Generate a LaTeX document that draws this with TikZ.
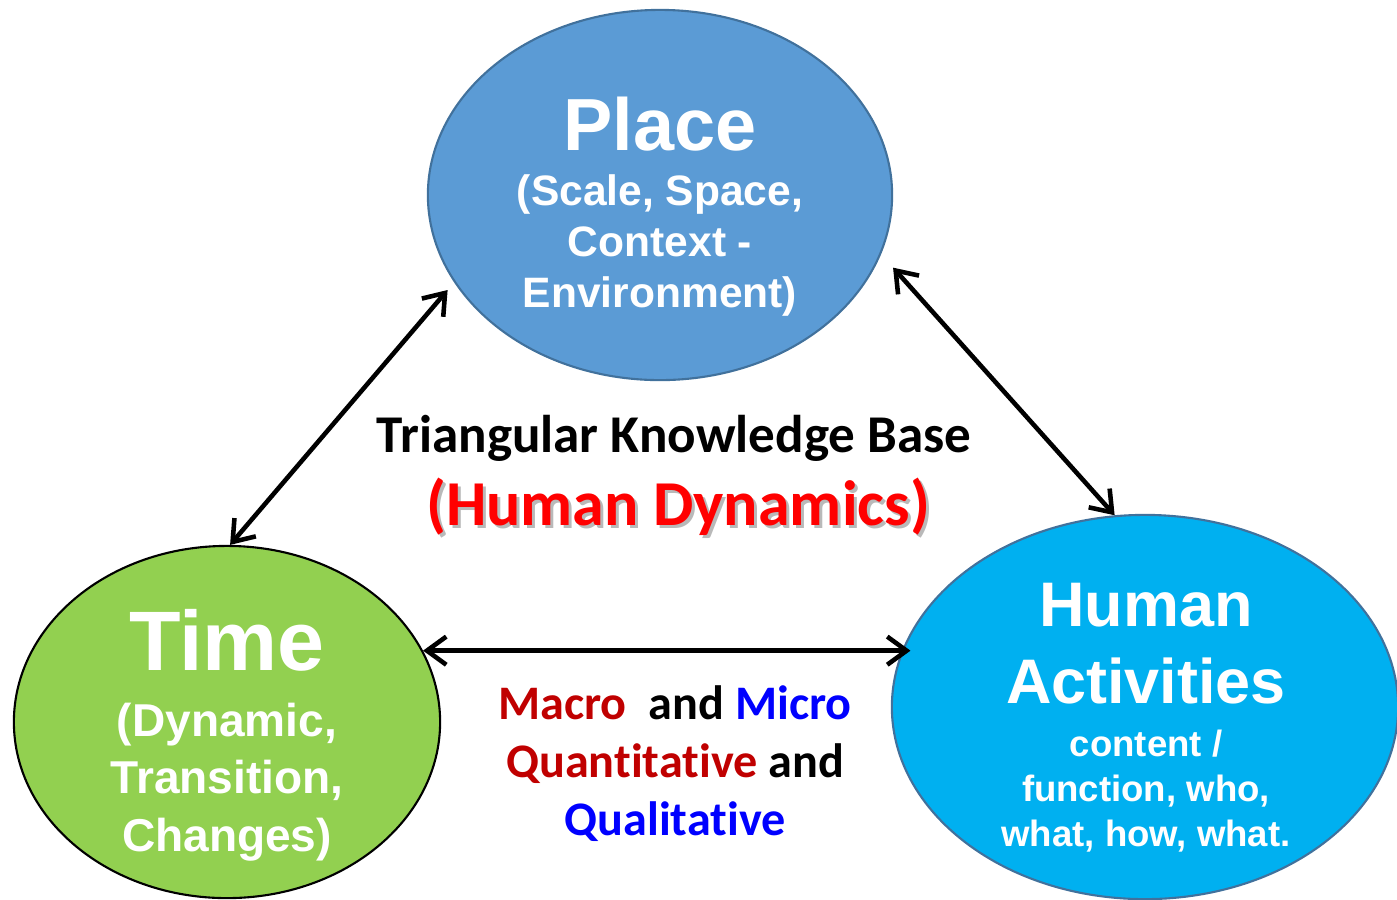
\documentclass[tikz,border=0pt]{standalone}
\usepackage{fontspec}
\setmainfont{Liberation Sans}
\newfontfamily\calibri[Ligatures=NoCommon]{Carlito}
\usetikzlibrary{shapes.geometric}
\usetikzlibrary{arrows.meta}
\definecolor{placeblue}{HTML}{5B9BD5}
\definecolor{bubbleedge}{HTML}{41719C}
\definecolor{timegreen}{HTML}{92D050}
\definecolor{humanblue}{HTML}{00B0F0}
\definecolor{macrored}{HTML}{C00000}

\begin{document}
\begin{tikzpicture}[x=0.01cm, y=-0.01cm,
    bubble/.style={draw, ellipse, inner sep=0pt, line width=0.6pt},
    link/.style={{Straight Barb[length=5.5pt,width=8pt]}-{Straight Barb[length=5.5pt,width=8pt]}, line width=1.3pt},
    bubbletext/.style={text=white, align=center, inner sep=0pt},
    midtext/.style={align=center, inner sep=0pt}]
    \useasboundingbox (0,0) rectangle (1397,899);

    \node[bubble, fill=placeblue, draw=bubbleedge, minimum width=4.64cm, minimum height=3.70cm] (place) at (660,195) {};
    \node[bubble, fill=timegreen, draw=black, minimum width=4.26cm, minimum height=3.52cm] (time) at (227,722) {};
    \node[bubble, fill=humanblue, draw=bubbleedge, minimum width=5.06cm, minimum height=3.84cm] (human) at (1145,707) {};

    \node[bubbletext, anchor=base, font=\bfseries\fontsize{21}{25}\selectfont] (place-title) at (660,150) {Place};
    \node[bubbletext, font=\bfseries\fontsize{12.1}{14.5}\selectfont] (place-sub) at (660,245) {(Scale, Space,\\Context -\\Environment)};
    \node[bubbletext, anchor=base, font=\bfseries\fontsize{24}{28}\selectfont] (time-title) at (227,670) {Time};
    \node[bubbletext, font=\bfseries\fontsize{13.1}{16.4}\selectfont] (time-sub) at (227,782) {(Dynamic,\\Transition,\\Changes)};
    \node[bubbletext, font=\bfseries\fontsize{17.9}{21.9}\selectfont] (human-title) at (1146,644) {Human\\Activities};
    \node[bubbletext, font=\bfseries\fontsize{10.4}{12.7}\selectfont] (human-sub) at (1146,791) {content /\\function, who,\\what, how, what.};

    \node[midtext, anchor=base, font=\calibri\bfseries\fontsize{15.1}{18}\selectfont] (kbase) at (674,452) {Triangular Knowledge Base};
    \node[midtext, anchor=base, text=gray!55, font=\calibri\bfseries\fontsize{18.2}{22}\selectfont] (dyn-shadow) at (681,528) {(Human Dynamics)};
    \node[midtext, anchor=base, text=red, font=\calibri\bfseries\fontsize{18.2}{22}\selectfont] (dyn) at (678,525) {(Human Dynamics)};
    \node[midtext, font=\calibri\bfseries\fontsize{13.7}{16.5}\selectfont] (scales) at (675,764)
        {\textcolor{macrored}{Macro}\ \ and \textcolor{blue}{Micro}\\\textcolor{macrored}{Quantitative} and\\\textcolor{blue}{Qualitative}};

    \draw[link, shorten >=0.1cm] (time.89) -- (place.203);
    \draw[link, shorten <=0.18cm] (place.345) -- (human.99);
    \draw[link, shorten >=-0.07cm] (time.20) -- (time.20 -| human.166);
\end{tikzpicture}
\end{document}
